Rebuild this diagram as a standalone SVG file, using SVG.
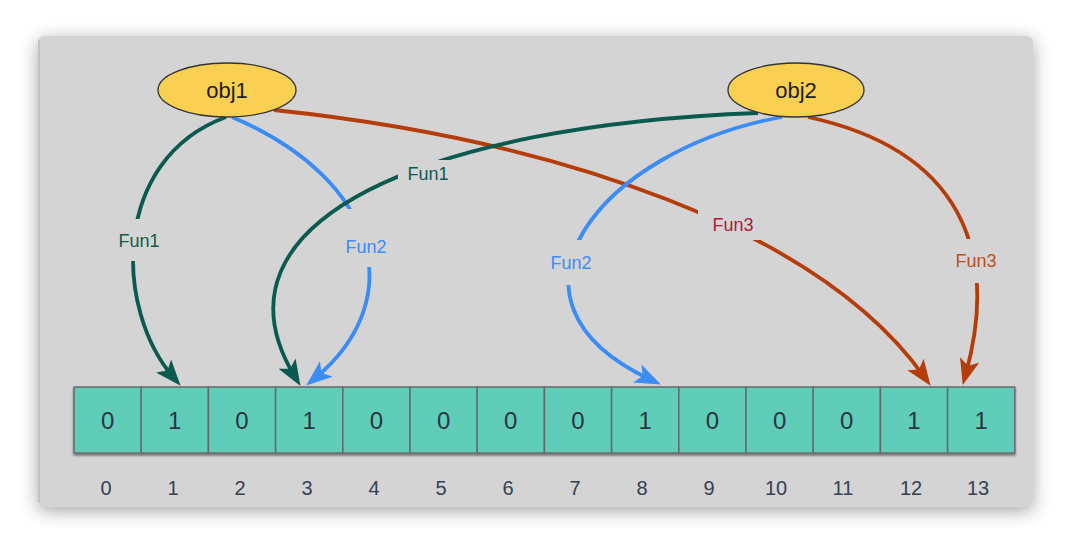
<svg xmlns="http://www.w3.org/2000/svg" width="1070" height="544" viewBox="0 0 1070 544">
  <defs>
    <filter id="shadow" x="-10%" y="-15%" width="120%" height="130%">
      <feDropShadow dx="0" dy="4" stdDeviation="9" flood-color="#000" flood-opacity="0.35"/>
    </filter>
    <filter id="cellshadow" x="-5%" y="-20%" width="110%" height="140%">
      <feDropShadow dx="0" dy="2" stdDeviation="1.2" flood-color="#000" flood-opacity="0.45"/>
    </filter>
    <marker id="ah-teal" markerUnits="userSpaceOnUse" markerWidth="28" markerHeight="22" refX="15" refY="10" orient="auto">
      <path d="M0,0 L26,10 L0,20 L6,10 z" fill="#0b5a4f"/>
    </marker>
    <marker id="ah-blue" markerUnits="userSpaceOnUse" markerWidth="28" markerHeight="22" refX="15" refY="10" orient="auto">
      <path d="M0,0 L26,10 L0,20 L6,10 z" fill="#3b8cf5"/>
    </marker>
    <marker id="ah-orange" markerUnits="userSpaceOnUse" markerWidth="28" markerHeight="22" refX="15" refY="10" orient="auto">
      <path d="M0,0 L26,10 L0,20 L6,10 z" fill="#b53d0a"/>
    </marker>
  </defs>
  <style>
    .obj { fill: #f9d052; stroke: #333; stroke-width: 1.3; }
    .objt { font-family: "Liberation Sans", Arial, sans-serif; font-size: 22px; fill: #1e1e1e; text-anchor: middle; dominant-baseline: central; }
    .cell { fill: #5ecdb8; stroke: #6a6a6a; stroke-width: 1.5; }
    .val { font-family: "Liberation Sans", Arial, sans-serif; font-size: 24px; fill: #2b3447; text-anchor: middle; dominant-baseline: central; }
    .idx { font-family: "Liberation Sans", Arial, sans-serif; font-size: 20px; fill: #354055; text-anchor: middle; dominant-baseline: central; }
    .edge { fill: none; stroke-width: 3.8; }
    .teal { stroke: #0b5a4f; }
    .blue { stroke: #3b8cf5; }
    .orange { stroke: #b53d0a; }
    .lblbg { fill: #d4d4d4; }
    .lbl { font-family: "Liberation Sans", Arial, sans-serif; font-size: 18px; text-anchor: middle; dominant-baseline: central; }
  </style>

  <rect x="0" y="0" width="1070" height="544" fill="#ffffff"/>
  <rect x="38" y="36" width="995" height="471" rx="6" fill="#d4d4d4" filter="url(#shadow)"/>
  <line x1="39" y1="40" x2="39" y2="503" stroke="#bdbdbd" stroke-width="1.5"/>

  <g id="connectors">
    <path id="e-obj1-1" class="edge teal" d="M226,117 C110,160 115,310 173.4,377.4" marker-end="url(#ah-teal)"/>
    <path id="e-obj1-3" class="edge blue" d="M232,117 C380,180 410,300 314.7,378.6" marker-end="url(#ah-blue)"/>
    <path id="e-obj1-12" class="edge orange" d="M274,110 C560,140 820,230 924.2,376.8" marker-end="url(#ah-orange)"/>
    <path id="e-obj2-3" class="edge teal" d="M758,113 C430,125 200,220 294.8,376.5" marker-end="url(#ah-teal)"/>
    <path id="e-obj2-8" class="edge blue" d="M782,117 C600,150 480,300 650.9,379.8" marker-end="url(#ah-blue)"/>
    <path id="e-obj2-13" class="edge orange" d="M808,117 C960,150 1000,250 965.7,374.4" marker-end="url(#ah-orange)"/>

    <rect class="lblbg" x="114" y="219" width="50" height="42"/>
    <text class="lbl" x="139" y="241" fill="#0e5a4e">Fun1</text>
    <rect class="lblbg" x="341" y="209" width="50" height="58"/>
    <text class="lbl" x="366" y="247" fill="#3b8cf5">Fun2</text>
    <rect class="lblbg" x="398" y="160" width="60" height="28"/>
    <text class="lbl" x="428" y="174" fill="#0e5a4e">Fun1</text>
    <rect class="lblbg" x="546" y="240" width="50" height="45"/>
    <text class="lbl" x="571" y="263" fill="#3b8cf5">Fun2</text>
    <rect class="lblbg" x="698" y="204" width="68" height="36"/>
    <text class="lbl" x="733" y="225" fill="#b3163c">Fun3</text>
    <rect class="lblbg" x="951" y="239" width="50" height="44"/>
    <text class="lbl" x="976" y="261" fill="#b8501e">Fun3</text>
  </g>

  <g id="obj1">
    <ellipse class="obj" cx="227" cy="90" rx="69" ry="27"/>
    <text class="objt" x="227" y="90">obj1</text>
  </g>
  <g id="obj2">
    <ellipse class="obj" cx="796" cy="90" rx="68" ry="27"/>
    <text class="objt" x="796" y="90">obj2</text>
  </g>

  <g id="array" filter="url(#cellshadow)">
    <rect class="cell" x="74" y="387" width="67.2" height="66"/>
    <rect class="cell" x="141.2" y="387" width="67.2" height="66"/>
    <rect class="cell" x="208.4" y="387" width="67.2" height="66"/>
    <rect class="cell" x="275.6" y="387" width="67.2" height="66"/>
    <rect class="cell" x="342.8" y="387" width="67.2" height="66"/>
    <rect class="cell" x="410" y="387" width="67.2" height="66"/>
    <rect class="cell" x="477.2" y="387" width="67.2" height="66"/>
    <rect class="cell" x="544.4" y="387" width="67.2" height="66"/>
    <rect class="cell" x="611.6" y="387" width="67.2" height="66"/>
    <rect class="cell" x="678.8" y="387" width="67.2" height="66"/>
    <rect class="cell" x="746" y="387" width="67.2" height="66"/>
    <rect class="cell" x="813.2" y="387" width="67.2" height="66"/>
    <rect class="cell" x="880.4" y="387" width="67.2" height="66"/>
    <rect class="cell" x="947.6" y="387" width="67.2" height="66"/>
  </g>
  <g id="values">
    <text class="val" x="107.6" y="420">0</text>
    <text class="val" x="174.8" y="420">1</text>
    <text class="val" x="242" y="420">0</text>
    <text class="val" x="309.2" y="420">1</text>
    <text class="val" x="376.4" y="420">0</text>
    <text class="val" x="443.6" y="420">0</text>
    <text class="val" x="510.8" y="420">0</text>
    <text class="val" x="578" y="420">0</text>
    <text class="val" x="645.2" y="420">1</text>
    <text class="val" x="712.4" y="420">0</text>
    <text class="val" x="779.6" y="420">0</text>
    <text class="val" x="846.8" y="420">0</text>
    <text class="val" x="914" y="420">1</text>
    <text class="val" x="981.2" y="420">1</text>
  </g>
  <g id="indices">
    <text class="idx" x="106" y="488">0</text>
    <text class="idx" x="173" y="488">1</text>
    <text class="idx" x="240" y="488">2</text>
    <text class="idx" x="307" y="488">3</text>
    <text class="idx" x="374" y="488">4</text>
    <text class="idx" x="441" y="488">5</text>
    <text class="idx" x="508" y="488">6</text>
    <text class="idx" x="575" y="488">7</text>
    <text class="idx" x="642" y="488">8</text>
    <text class="idx" x="709" y="488">9</text>
    <text class="idx" x="776" y="488">10</text>
    <text class="idx" x="843" y="488">11</text>
    <text class="idx" x="911" y="488">12</text>
    <text class="idx" x="978" y="488">13</text>
  </g>
</svg>
